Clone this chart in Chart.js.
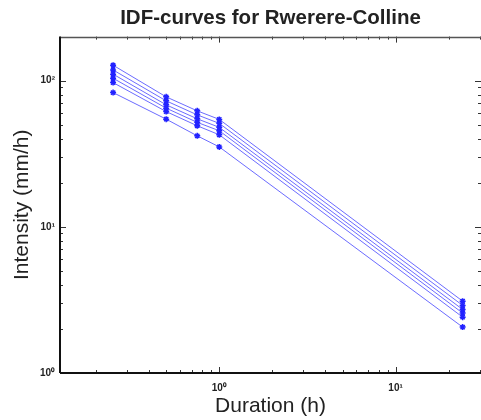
<!DOCTYPE html>
<html><head><meta charset="utf-8">
<script src="https://cdn.jsdelivr.net/npm/chart.js@4"></script>
<style>html,body{margin:0;padding:0;background:#fff;overflow:hidden}</style>
</head><body>
<canvas id="c" width="481" height="420"></canvas>
<script>
// Durations (h)
const durations = [0.25, 0.5, 0.75, 1, 24];
// Intensities (mm/h), one array per curve (lowest to highest)
const curve1 = [82.8, 54.5, 41.9, 35.2, 2.06];
const curve2 = [96.9, 61.4, 49.1, 42.6, 2.41];
const curve3 = [103.8, 64.8, 51.8, 45.4, 2.57];
const curve4 = [110.7, 68.3, 54.8, 47.9, 2.72];
const curve5 = [118.3, 72.7, 58.3, 51.0, 2.90];
const curve6 = [127.4, 77.4, 62.1, 54.3, 3.10];
const curves = [curve1, curve2, curve3, curve4, curve5, curve6];

// Tick values and labels
const xMajorTicks = [1, 10];
const xMajorLabels = ['10\u2070', '10\u00B9'];
const xMinorTicks = [0.2, 0.3, 0.4, 0.5, 0.6, 0.7, 0.8, 0.9, 2, 3, 4, 5, 6, 7, 8, 9, 20, 30];
const yMajorTicks = [1, 10, 100];
const yMajorLabels = ['10\u2070', '10\u00B9', '10\u00B2'];
const yMinorTicks = [2, 3, 4, 5, 6, 7, 8, 9, 20, 30, 40, 50, 60, 70, 80, 90, 200];

const FONT = 'Liberation Sans, Arial, Helvetica, sans-serif';

const boxTicks = {
  id: 'boxTicks',
  afterDraw(chart) {
    const {ctx, chartArea: a, scales: {x, y}} = chart;
    ctx.save();
    ctx.strokeStyle = '#333';
    ctx.lineWidth = 1;
    const line = (x1, y1, x2, y2) => { ctx.beginPath(); ctx.moveTo(x1, y1); ctx.lineTo(x2, y2); ctx.stroke(); };
    x.ticks.forEach(t => {
      const px = Math.round(x.getPixelForValue(t.value)) + 0.5;
      const len = xMajorTicks.includes(t.value) ? 6 : 3;
      line(px, a.bottom, px, a.bottom - len);
      line(px, a.top, px, a.top + len);
    });
    y.ticks.forEach(t => {
      const py = Math.round(y.getPixelForValue(t.value)) + 0.5;
      const len = yMajorTicks.includes(t.value) ? 6 : 3;
      line(a.left, py, a.left + len, py);
      line(a.right, py, a.right - len, py);
    });
    // box
    ctx.strokeStyle = '#555';
    ctx.lineWidth = 1.5;
    line(a.left, Math.round(a.top) + 0.5, a.right, Math.round(a.top) + 0.5);
    ctx.strokeStyle = '#111';
    ctx.lineWidth = 2;
    line(a.left, a.bottom, a.right, a.bottom);
    line(a.left, a.top, a.left, a.bottom);
    ctx.restore();
  }
};

new Chart(document.getElementById('c'), {
  type: 'line',
  data: {
    datasets: curves.map(c => ({
      data: durations.map((d, i) => ({x: d, y: c[i]})),
      borderColor: 'rgba(70,70,255,0.8)',
      borderWidth: 1,
      pointStyle: 'star',
      pointRadius: 3,
      pointBorderWidth: 1.5,
      pointBorderColor: '#2222ff',
      pointBackgroundColor: '#2222ff',
      tension: 0,
      fill: false
    }))
  },
  options: {
    responsive: false,
    animation: false,
    events: [],
    layout: {autoPadding: false, padding: {left: 0, right: 0, top: 0, bottom: 0}},
    plugins: {
      legend: {display: false},
      tooltip: {enabled: false},
      title: {
        display: true,
        fullSize: false,
        text: 'IDF-curves for Rwerere-Colline',
        color: '#222',
        font: {family: FONT, size: 20.5, weight: 'bold', lineHeight: 1.2},
        padding: {top: 6, bottom: 6}
      }
    },
    scales: {
      x: {
        type: 'logarithmic',
        min: 0.125,
        max: 30.5,
        afterBuildTicks: s => {
          s.ticks = [...xMinorTicks, ...xMajorTicks].sort((a, b) => a - b).map(v => ({value: v}));
        },
        afterFit: s => { s.height = 47; },
        grid: {display: true, color: 'rgba(0,0,0,0)', drawOnChartArea: false, drawTicks: true, tickLength: 9},
        border: {display: false},
        ticks: {
          autoSkip: false, maxRotation: 0, minRotation: 0, padding: 0,
          color: '#222',
          font: {family: FONT, size: 10, weight: 'bold'},
          callback: v => { const i = xMajorTicks.indexOf(v); return i >= 0 ? xMajorLabels[i] : ''; }
        },
        title: {
          display: true, text: 'Duration (h)', color: '#222',
          font: {family: FONT, size: 21, lineHeight: 1.2},
          padding: {top: 0, bottom: 1.5}
        }
      },
      y: {
        type: 'logarithmic',
        min: 1,
        max: 200,
        afterBuildTicks: s => {
          s.ticks = [...yMinorTicks, ...yMajorTicks].sort((a, b) => a - b).map(v => ({value: v}));
        },
        afterFit: s => { s.width = 60; },
        grid: {display: true, color: 'rgba(0,0,0,0)', drawOnChartArea: false, drawTicks: true, tickLength: 5},
        border: {display: false},
        ticks: {
          autoSkip: false, padding: 0,
          color: '#222',
          font: {family: FONT, size: 10, weight: 'bold'},
          callback: v => { const i = yMajorTicks.indexOf(v); return i >= 0 ? yMajorLabels[i] : ''; }
        },
        title: {
          display: true, text: 'Intensity (mm/h)', color: '#222',
          font: {family: FONT, size: 21, lineHeight: 1.2},
          padding: {top: 9.5, bottom: 0}
        }
      }
    }
  },
  plugins: [boxTicks]
});
</script>
</body></html>
